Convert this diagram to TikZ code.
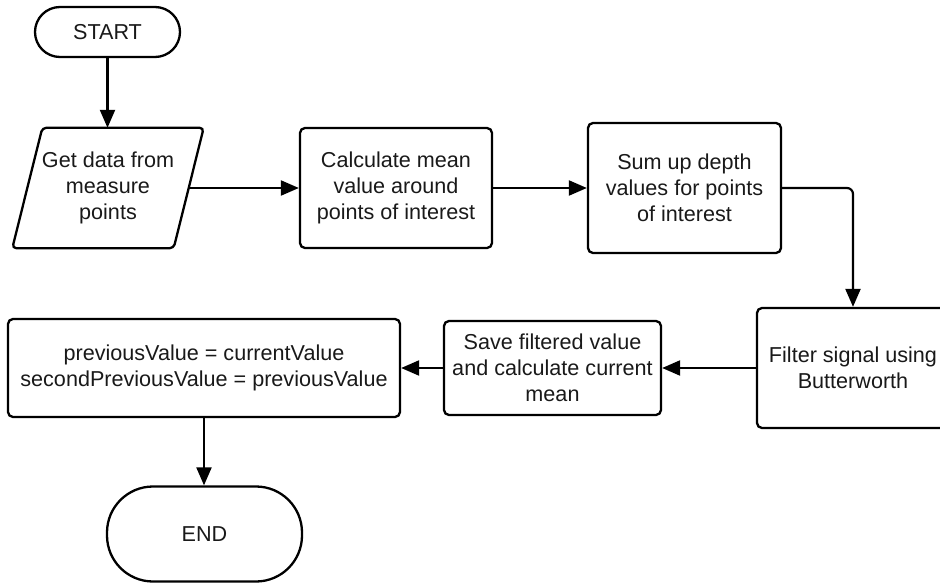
\documentclass[tikz,border=0pt]{standalone}
\usepackage{fontspec}
\setmainfont{Liberation Sans}
\usetikzlibrary{arrows.meta}
\begin{document}
\begin{tikzpicture}[x=1pt,y=-1pt,
  txt/.style={font=\fontsize{21.6}{25.8}\selectfont, text=black!90},
  box/.style={draw, line width=2.3pt, rounded corners=5pt, inner sep=0pt, align=center, txt},
  conn/.style={line width=2.2pt, -{Triangle[length=18pt,width=15pt]}}]
\clip (0,0) rectangle (940,583);
% nodes
\node[box, rounded corners=25pt, minimum width=145pt, minimum height=50pt] (start) at (107.5,32) {START};
\node[inner sep=0pt, align=center, minimum width=161pt, minimum height=120pt, txt] (get) at (108,188) {Get data from\\measure\\points};
\draw[line width=2.3pt, rounded corners=4pt]
  ([xshift=15pt]get.north west) -- ([xshift=15pt]get.north east) --
  ([xshift=-15pt]get.south east) -- ([xshift=-15pt]get.south west) -- cycle;
\node[box, minimum width=192pt, minimum height=120pt] (calc) at (396,188) {Calculate mean\\value around\\points of interest};
\node[box, minimum width=193pt, minimum height=130pt] (sum) at (684.5,188) {Sum up depth\\values for points\\of interest};
\node[box, minimum width=192pt, minimum height=120pt] (filter) at (853,368) {Filter signal using\\Butterworth};
\node[box, minimum width=217pt, minimum height=94pt] (save) at (552.5,368) {Save filtered value\\and calculate current\\mean};
\node[box, minimum width=392pt, minimum height=98pt] (prev) at (204,368) {previousValue = currentValue\\secondPreviousValue = previousValue};
\node[box, rounded corners=46pt, minimum width=195pt, minimum height=95pt] (end) at (204.5,534) {END};
% connectors
\draw[conn] (start.south) -- (start.south |- get.north);
\draw[conn] (get.east) -- (calc.west);
\draw[conn] (calc.east) -- (sum.west);
\draw[conn, rounded corners=6pt] (sum.east) -| (filter.north);
\draw[conn] (filter.west) -- (save.east);
\draw[conn] (save.west) -- (prev.east);
\draw[conn] (prev.south) -- (prev.south |- end.north);
\end{tikzpicture}
\end{document}
